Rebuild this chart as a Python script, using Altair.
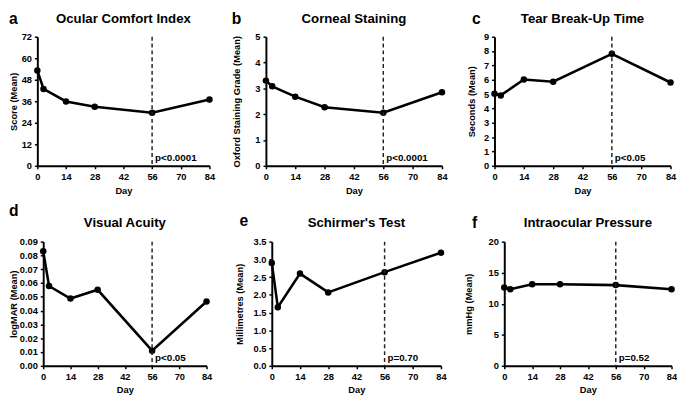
import altair as alt
import pandas as pd

FONT = "Liberation Sans"

DAYS = [0, 3, 14, 28, 56, 84]
X_TICKS = [0, 14, 28, 42, 56, 70, 84]

ocular_comfort = [53.2, 42.9, 35.9, 32.9, 29.6, 37.0]
corneal_staining = [3.30, 3.08, 2.68, 2.27, 2.06, 2.85]
tear_breakup = [5.02, 4.91, 6.02, 5.86, 7.81, 5.81]
visual_acuity = [0.083, 0.0578, 0.0488, 0.0551, 0.011, 0.0466]
schirmer = [2.90, 1.65, 2.60, 2.07, 2.64, 3.19]
iop = [12.6, 12.35, 13.15, 13.15, 13.0, 12.35]

letters = ["a", "b", "c", "d", "e", "f"]
titles = ["Ocular Comfort Index", "Corneal Staining", "Tear Break-Up Time",
          "Visual Acuity", "Schirmer's Test", "Intraocular Pressure"]
y_titles = ["Score (Mean)", "Oxford Staining Grade (Mean)", "Seconds (Mean)",
            "logMAR (Mean)", "Millimetres (Mean)", "mmHg (Mean)"]
p_texts = ["p<0.0001", "p<0.0001", "p<0.05", "p<0.05", "p=0.70", "p=0.52"]
y_ticks = [
    [0, 12, 24, 36, 48, 60, 72],
    [0, 1, 2, 3, 4, 5],
    [0, 1, 2, 3, 4, 5, 6, 7, 8, 9],
    [0, 0.01, 0.02, 0.03, 0.04, 0.05, 0.06, 0.07, 0.08, 0.09],
    [0, 0.5, 1.0, 1.5, 2.0, 2.5, 3.0, 3.5],
    [0, 5, 10, 15, 20],
]
y_formats = ["d", "d", "d", ".2f", ".1f", "d"]


def panel(values, i, w, h, off, letter_x, letter_y, ytitle_x, day_y, ext):
    # off: inner left shift of the plot inside its cell
    # ext = (left, top, right, bottom) extents of the cell box around the plot
    L, T, R, B = ext
    gw = w + off
    df = pd.DataFrame({"day": DAYS, "value": values})
    ann = pd.DataFrame({"day": [56], "p": [p_texts[i]],
                        "letter": [letters[i]], "title": [titles[i]]})
    yt = y_ticks[i]
    x = alt.X("day:Q",
              scale=alt.Scale(domain=[0, 84], nice=False, zero=False, range=[off, gw]),
              axis=alt.Axis(values=X_TICKS, title="Day", titleX=off + w / 2, titleY=day_y,
                            titleBaseline="alphabetic", titleAlign="center"))
    y = alt.Y("value:Q",
              scale=alt.Scale(domain=[yt[0], yt[-1]], nice=False),
              axis=alt.Axis(values=yt, format=y_formats[i], title=y_titles[i],
                            offset=-off,
                            titleX=ytitle_x, titleY=h / 2, titleAngle=270,
                            titleAlign="center", titleBaseline="middle"))
    base = alt.Chart(df)
    line = base.mark_line(color="black", strokeWidth=2.6).encode(x=x, y=y)
    pts = base.mark_circle(color="black", size=44, opacity=1).encode(x=x, y=y)
    a = alt.Chart(ann)
    frame = a.mark_rule(opacity=0, strokeWidth=0.1).encode(
        x=alt.value(-L), x2=alt.value(gw + R), y=alt.value(-T), y2=alt.value(h + B))
    rule = a.mark_rule(color="#222222", strokeWidth=1.5, strokeDash=[4, 3]).encode(
        x=x, y=alt.value(0), y2=alt.value(h))
    ptxt = a.mark_text(align="left", baseline="alphabetic", dx=3, dy=-5,
                       fontSize=10, fontWeight="bold", font=FONT, color="black").encode(
        x=x, y=alt.value(h), text="p:N")
    let = a.mark_text(align="left", baseline="alphabetic", fontSize=16,
                      fontWeight="bold", font=FONT, color="black").encode(
        x=alt.value(off + letter_x), y=alt.value(letter_y), text="letter:N")
    ttl = a.mark_text(align="center", baseline="alphabetic", fontSize=13.5,
                      fontWeight="bold", font=FONT, color="black").encode(
        x=alt.value(off + w / 2), y=alt.value(-14.5), text="title:N")
    return alt.layer(frame, line, pts, rule, ptxt, let, ttl).properties(width=gw, height=h)


H1, H2 = 132, 127
T1, B1 = 28.5, 31
T2, B2 = 40, 28
R = 5.3
pa = panel(ocular_comfort, 0, 176, H1, 0, -29, -13, -24.5, 28, (29.5, T1, R, B1))
pb = panel(corneal_staining, 1, 180, H1, 0, -35, -13, -29.5, 28, (35, T1, R, B1))
pc = panel(tear_breakup, 2, 180, H1, 0, -23, -13, -23.5, 28, (35, T1, R, B1))
pd_ = panel(visual_acuity, 3, 167, H2, 6, -35, -26, -30.5, 27, (29.5, T2, R, B2))
pe = panel(schirmer, 4, 173, H2, 6, -33, -16, -32.5, 27, (35, T2, R, B2))
pf = panel(iop, 5, 171, H2, 10, -33, -14, -37, 27, (35, T2, R, B2))

chart = alt.concat(
    pa, pb, pc, pd_, pe, pf, columns=3,
    align={"row": "each", "column": "all"},
    spacing={"row": 6.5, "column": 11.7},
).properties(
    padding={"left": 0, "top": -4, "right": 0, "bottom": 0}
).configure_view(stroke=None).configure_axis(
    grid=False, domainColor="black", domainWidth=2, tickColor="black",
    tickWidth=1.5, tickSize=3, labelPadding=3, labelFont=FONT, labelFontSize=9.5,
    labelFontWeight="bold", labelColor="black", titleFont=FONT, titleFontSize=9.5,
    titleFontWeight="bold", titleColor="black", labelFlush=False, labelOverlap=False
)

chart.save("out.html", embed_options={"renderer": "svg", "actions": False})
